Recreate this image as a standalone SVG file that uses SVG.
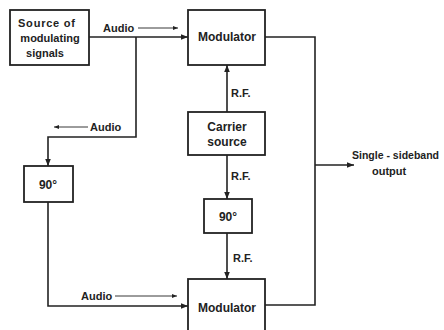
<svg xmlns="http://www.w3.org/2000/svg" width="444" height="330" viewBox="0 0 444 330">
<defs>
<marker id="ah" viewBox="0 0 10 10" refX="10" refY="5" markerWidth="7" markerHeight="7" markerUnits="userSpaceOnUse" orient="auto"><path d="M0,1 L10,5 L0,9 Z" fill="#222"/></marker>
<marker id="sh" viewBox="0 0 10 10" refX="10" refY="5" markerWidth="7" markerHeight="5" markerUnits="userSpaceOnUse" orient="auto"><path d="M0,1 L10,5 L0,9 Z" fill="#222"/></marker>
</defs>
<style>
.box{fill:#fff;stroke:#222;stroke-width:1.8}
.ln{fill:none;stroke:#222;stroke-width:1.6}
.la{fill:none;stroke:#222;stroke-width:0.9}
text{font-family:"Liberation Sans",Arial,sans-serif;font-size:11px;fill:#222;font-weight:bold}
.c{text-anchor:middle}
</style>
<rect width="444" height="330" fill="#fff"/>
<g id="connectors">
<path class="ln" d="M89,37 H188" marker-end="url(#ah)"/>
<path class="ln" d="M136,37 V137 H48 V166" marker-end="url(#ah)"/>
<path class="ln" d="M48,202 V306 H188" marker-end="url(#ah)"/>
<path class="ln" d="M227,112 V65" marker-end="url(#ah)"/>
<path class="ln" d="M227,155 V199" marker-end="url(#ah)"/>
<path class="ln" d="M227,233 V279" marker-end="url(#ah)"/>
<path class="ln" d="M265,37 H315 V305 H265"/>
<path class="ln" d="M315,165 H354" marker-end="url(#ah)"/>
<path class="la" d="M138,28 H178" marker-end="url(#sh)"/>
<path class="la" d="M88,127 H54" marker-end="url(#sh)"/>
<path class="la" d="M115,296 H177" marker-end="url(#sh)"/>
<text x="103" y="32">Audio</text>
<text x="90" y="131">Audio</text>
<text x="81" y="300">Audio</text>
<text x="231" y="97">R.F.</text>
<text x="231" y="180">R.F.</text>
<text x="233" y="262">R.F.</text>
<text x="352" y="159" textLength="87" lengthAdjust="spacingAndGlyphs">Single - sideband</text>
<text x="372" y="175">output</text>
</g>
<g id="source">
<rect class="box" x="10" y="10" width="79" height="55"/>
<text x="18" y="27" textLength="57">Source of</text>
<text class="c" x="50" y="42">modulating</text>
<text class="c" x="45" y="57">signals</text>
</g>
<g id="modulator1">
<rect class="box" x="188" y="10" width="77" height="55"/>
<text class="c" x="227" y="41" style="font-size:12px">Modulator</text>
</g>
<g id="carrier">
<rect class="box" x="188" y="112" width="77" height="43"/>
<text class="c" x="227" y="131" style="font-size:12px">Carrier</text>
<text class="c" x="227" y="146" style="font-size:12px">source</text>
</g>
<g id="phase1">
<rect class="box" x="24" y="166" width="49" height="36"/>
<text class="c" x="48" y="189" style="font-size:12px">90°</text>
</g>
<g id="phase2">
<rect class="box" x="204" y="199" width="48" height="34"/>
<text class="c" x="228" y="221" style="font-size:12px">90°</text>
</g>
<g id="modulator2">
<rect class="box" x="188" y="279" width="77" height="60"/>
<text class="c" x="227" y="312" style="font-size:12px">Modulator</text>
</g>
</svg>
